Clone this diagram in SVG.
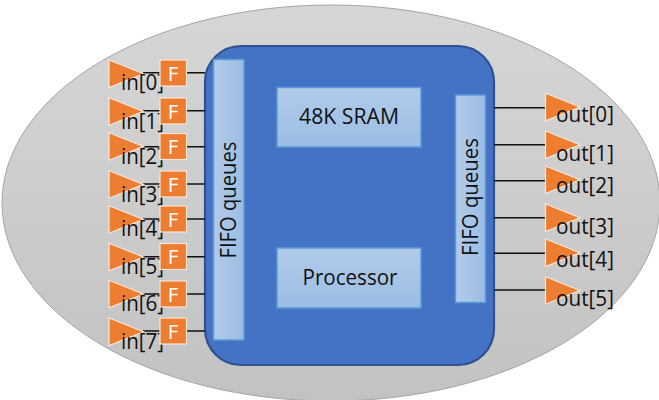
<svg xmlns="http://www.w3.org/2000/svg" width="659" height="400" viewBox="0 0 659 400">
<style>
text{font-family:"Open Sans","Noto Sans","Liberation Sans",sans-serif;fill:#111;font-size:21.5px}
.box{fill:url(#bx);stroke:#5b9bd5;stroke-width:1.5}
.tri{fill:#ed7d31;stroke:#fbe5d6;stroke-width:1.2}
.f{fill:#ed7d31;stroke:#fbe5d6;stroke-width:1.2}
text.ft{fill:#fff;font-size:20.500px;text-anchor:middle}
.w{stroke:#111;stroke-width:1.5;fill:none}
</style>
<defs>
<linearGradient id="el" x1="0" y1="0" x2="0" y2="1"><stop offset="0" stop-color="#d6d6d6"/><stop offset="1" stop-color="#c2c2c2"/></linearGradient>
<linearGradient id="bx" x1="0" y1="0" x2="0" y2="1"><stop offset="0" stop-color="#b1cbe9"/><stop offset="1" stop-color="#9bbde4"/></linearGradient>
<linearGradient id="bxh" x1="0" y1="0" x2="1" y2="0"><stop offset="0" stop-color="#b1cbe9"/><stop offset="1" stop-color="#9bbde4"/></linearGradient>
<polygon id="t" class="tri" points="0,0 34.500,13.700 0,27.500"/>
</defs>
<g id="chip-outline"><ellipse cx="331" cy="203" rx="329" ry="198" fill="url(#el)" stroke="#a5a5a5" stroke-width="1"/></g>
<g id="core"><rect x="205" y="46" width="289" height="319" rx="36" fill="#4472c4" stroke="#2f528f" stroke-width="2.200"/></g>
<g id="connectors">
<path class="w" d="M143 72.700H205M143 110.700H205M143 146.700H205M143 184H205M143 219H205M143 256.700H205M143 294H205M143 331H205"/>
<path class="w" d="M494 107.700H545M494 144.700H545M494 180.700H545M494 217.700H545M494 253.300H545M494 290H545"/>
</g>
<g id="fifo-in"><rect x="213.500" y="59.500" width="30.500" height="280.500" class="box" style="fill:url(#bxh)"/><text transform="translate(236,200) rotate(-90)" text-anchor="middle" textLength="117" lengthAdjust="spacingAndGlyphs">FIFO queues</text></g>
<g id="fifo-out"><rect x="455.500" y="95" width="30" height="207.500" class="box" style="fill:url(#bxh)"/><text transform="translate(478,197) rotate(-90)" text-anchor="middle" textLength="118" lengthAdjust="spacingAndGlyphs">FIFO queues</text></g>
<g id="sram"><rect x="277" y="87.500" width="144" height="59.500" class="box"/><text x="349" y="124" text-anchor="middle" textLength="100" lengthAdjust="spacingAndGlyphs">48K SRAM</text></g>
<g id="processor"><rect x="277" y="248" width="144" height="60" class="box"/><text x="350" y="285" text-anchor="middle" textLength="95" lengthAdjust="spacingAndGlyphs">Processor</text></g>
<g id="in0"><use href="#t" x="109" y="60"/><text x="121" y="90" textLength="43" lengthAdjust="spacingAndGlyphs">in[0]</text><rect class="f" x="160" y="60" width="26.500" height="26"/><text class="ft" x="173" y="80.500">F</text></g>
<g id="in1"><use href="#t" x="109" y="97.700"/><text x="121" y="128.700" textLength="43" lengthAdjust="spacingAndGlyphs">in[1]</text><rect class="f" x="160" y="98" width="26.500" height="26"/><text class="ft" x="173" y="118.500">F</text></g>
<g id="in2"><use href="#t" x="109" y="132.700"/><text x="121" y="164" textLength="43" lengthAdjust="spacingAndGlyphs">in[2]</text><rect class="f" x="160" y="133.500" width="26.500" height="26"/><text class="ft" x="173" y="154">F</text></g>
<g id="in3"><use href="#t" x="109" y="170.700"/><text x="121" y="202" textLength="43" lengthAdjust="spacingAndGlyphs">in[3]</text><rect class="f" x="160" y="171" width="26.500" height="26"/><text class="ft" x="173" y="191.500">F</text></g>
<g id="in4"><use href="#t" x="109" y="205.700"/><text x="121" y="236" textLength="43" lengthAdjust="spacingAndGlyphs">in[4]</text><rect class="f" x="160" y="206" width="26.500" height="26"/><text class="ft" x="173" y="226.500">F</text></g>
<g id="in5"><use href="#t" x="109" y="243.300"/><text x="121" y="274" textLength="43" lengthAdjust="spacingAndGlyphs">in[5]</text><rect class="f" x="160" y="243.500" width="26.500" height="26"/><text class="ft" x="173" y="264">F</text></g>
<g id="in6"><use href="#t" x="109" y="280.300"/><text x="121" y="310.700" textLength="43" lengthAdjust="spacingAndGlyphs">in[6]</text><rect class="f" x="160" y="281" width="26.500" height="26"/><text class="ft" x="173" y="301.500">F</text></g>
<g id="in7"><use href="#t" x="109" y="318"/><text x="121" y="349" textLength="43" lengthAdjust="spacingAndGlyphs">in[7]</text><rect class="f" x="160" y="318" width="26.500" height="26"/><text class="ft" x="173" y="338.500">F</text></g>
<g id="out0"><use href="#t" x="545.500" y="93.300"/><text x="556" y="121.700" textLength="58" lengthAdjust="spacingAndGlyphs">out[0]</text></g>
<g id="out1"><use href="#t" x="545.500" y="131"/><text x="556" y="160.700" textLength="58" lengthAdjust="spacingAndGlyphs">out[1]</text></g>
<g id="out2"><use href="#t" x="545.500" y="166"/><text x="556" y="193" textLength="58" lengthAdjust="spacingAndGlyphs">out[2]</text></g>
<g id="out3"><use href="#t" x="545.500" y="204"/><text x="556" y="234" textLength="58" lengthAdjust="spacingAndGlyphs">out[3]</text></g>
<g id="out4"><use href="#t" x="545.500" y="239"/><text x="556" y="267" textLength="58" lengthAdjust="spacingAndGlyphs">out[4]</text></g>
<g id="out5"><use href="#t" x="545.500" y="276.700"/><text x="556" y="306" textLength="58" lengthAdjust="spacingAndGlyphs">out[5]</text></g>
</svg>
